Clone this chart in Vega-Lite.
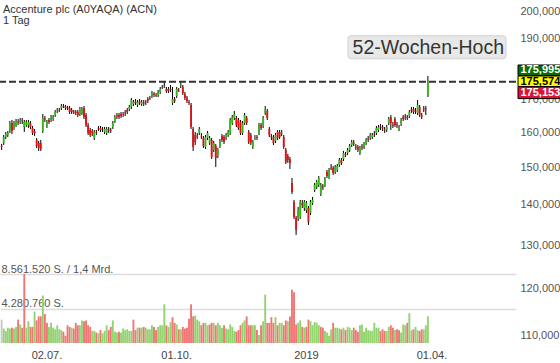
{
  "$schema": "https://vega.github.io/schema/vega-lite/v6.json",
  "width": 516,
  "height": 343,
  "autosize": {"type": "none"},
  "padding": {"left": 0, "top": 0, "right": 44, "bottom": 20},
  "background": "white",
  "config": {"view": {"stroke": null}, "font": "Liberation Sans"},
  "title": {"text": "Accenture plc (A0YAQA) (ACN)", "subtitle": "1 Tag", "anchor": "start", "frame": "group", "offset": -26, "dx": 3, "fontSize": 11, "fontWeight": "normal", "font": "Liberation Sans", "color": "#333333", "subtitleFontSize": 11, "subtitleFont": "Liberation Sans", "subtitleColor": "#333333", "subtitlePadding": 0},
  "datasets": {
    "kurse": [
      {"d":"2018-05-31","o":156.01,"h":156.59,"l":154.87,"c":155.73,"v":2900000},
      {"d":"2018-06-01","o":156.88,"h":159.20,"l":156.30,"c":158.62,"v":1800000},
      {"d":"2018-06-04","o":158.62,"h":160.08,"l":158.03,"c":159.49,"v":1500000},
      {"d":"2018-06-05","o":159.20,"h":160.38,"l":158.62,"c":159.79,"v":1900000},
      {"d":"2018-06-06","o":160.38,"h":163.36,"l":159.79,"c":162.76,"v":1800000},
      {"d":"2018-06-07","o":162.76,"h":163.66,"l":159.49,"c":160.38,"v":1900000},
      {"d":"2018-06-08","o":161.27,"h":163.36,"l":160.67,"c":162.76,"v":1800000},
      {"d":"2018-06-11","o":162.16,"h":163.96,"l":161.56,"c":163.06,"v":2000000},
      {"d":"2018-06-12","o":163.21,"h":163.96,"l":162.16,"c":162.91,"v":2900000},
      {"d":"2018-06-13","o":163.06,"h":164.26,"l":162.46,"c":163.51,"v":2300000},
      {"d":"2018-06-14","o":163.51,"h":164.26,"l":162.46,"c":163.21,"v":1900000},
      {"d":"2018-06-15","o":161.56,"h":163.66,"l":160.08,"c":163.06,"v":8561520},
      {"d":"2018-06-18","o":162.16,"h":163.66,"l":161.56,"c":163.06,"v":1900000},
      {"d":"2018-06-19","o":162.16,"h":163.66,"l":161.27,"c":163.06,"v":2700000},
      {"d":"2018-06-20","o":162.76,"h":163.36,"l":160.97,"c":161.56,"v":2000000},
      {"d":"2018-06-21","o":161.27,"h":161.86,"l":159.20,"c":159.79,"v":2000000},
      {"d":"2018-06-22","o":160.38,"h":160.97,"l":158.91,"c":159.79,"v":3900000},
      {"d":"2018-06-25","o":157.74,"h":158.32,"l":155.44,"c":156.01,"v":2800000},
      {"d":"2018-06-26","o":156.88,"h":157.45,"l":154.59,"c":155.44,"v":3300000},
      {"d":"2018-06-27","o":156.88,"h":157.74,"l":154.59,"c":155.16,"v":3300000},
      {"d":"2018-06-28","o":160.38,"h":165.47,"l":159.79,"c":164.26,"v":5900000},
      {"d":"2018-06-29","o":164.11,"h":164.87,"l":163.06,"c":163.81,"v":3600000},
      {"d":"2018-07-02","o":162.16,"h":163.66,"l":161.27,"c":163.06,"v":2500000},
      {"d":"2018-07-03","o":163.66,"h":164.26,"l":162.46,"c":163.06,"v":2000000},
      {"d":"2018-07-05","o":163.66,"h":165.17,"l":163.06,"c":164.57,"v":2500000},
      {"d":"2018-07-06","o":163.96,"h":165.17,"l":163.36,"c":164.57,"v":1900000},
      {"d":"2018-07-09","o":165.17,"h":166.69,"l":164.57,"c":166.08,"v":1700000},
      {"d":"2018-07-10","o":166.39,"h":167.31,"l":165.78,"c":166.54,"v":2200000},
      {"d":"2018-07-11","o":166.69,"h":167.31,"l":166.08,"c":166.54,"v":1700000},
      {"d":"2018-07-12","o":167.31,"h":168.55,"l":166.69,"c":167.93,"v":1600000},
      {"d":"2018-07-13","o":167.93,"h":168.55,"l":167.31,"c":167.78,"v":1400000},
      {"d":"2018-07-16","o":167.78,"h":168.24,"l":166.69,"c":167.31,"v":900000},
      {"d":"2018-07-17","o":167.47,"h":167.93,"l":166.69,"c":167.16,"v":2200000},
      {"d":"2018-07-18","o":167.31,"h":167.93,"l":165.47,"c":166.08,"v":2000000},
      {"d":"2018-07-19","o":166.69,"h":167.31,"l":165.47,"c":166.08,"v":1900000},
      {"d":"2018-07-20","o":166.24,"h":166.69,"l":165.47,"c":165.93,"v":1800000},
      {"d":"2018-07-23","o":166.08,"h":166.69,"l":165.17,"c":165.78,"v":2500000},
      {"d":"2018-07-24","o":166.08,"h":166.69,"l":164.57,"c":165.17,"v":2200000},
      {"d":"2018-07-25","o":165.47,"h":167.62,"l":164.87,"c":167.00,"v":2200000},
      {"d":"2018-07-26","o":165.78,"h":167.62,"l":165.17,"c":167.00,"v":2800000},
      {"d":"2018-07-27","o":167.31,"h":167.93,"l":163.96,"c":164.57,"v":2700000},
      {"d":"2018-07-30","o":165.17,"h":165.78,"l":161.56,"c":162.16,"v":2800000},
      {"d":"2018-07-31","o":162.16,"h":162.76,"l":159.20,"c":159.79,"v":2200000},
      {"d":"2018-08-01","o":160.67,"h":161.27,"l":158.62,"c":159.20,"v":2000000},
      {"d":"2018-08-02","o":160.38,"h":160.97,"l":158.91,"c":159.79,"v":1500000},
      {"d":"2018-08-03","o":158.32,"h":160.67,"l":157.74,"c":160.08,"v":1500000},
      {"d":"2018-08-06","o":160.08,"h":160.67,"l":159.20,"c":159.94,"v":1300000},
      {"d":"2018-08-07","o":161.27,"h":161.86,"l":160.38,"c":161.12,"v":1200000},
      {"d":"2018-08-08","o":161.27,"h":161.86,"l":160.08,"c":160.67,"v":1600000},
      {"d":"2018-08-09","o":160.97,"h":161.56,"l":160.08,"c":160.82,"v":1200000},
      {"d":"2018-08-10","o":160.08,"h":161.56,"l":159.49,"c":160.97,"v":1500000},
      {"d":"2018-08-13","o":159.79,"h":161.56,"l":159.20,"c":160.97,"v":2200000},
      {"d":"2018-08-14","o":160.82,"h":161.56,"l":159.79,"c":160.53,"v":1600000},
      {"d":"2018-08-15","o":160.53,"h":161.27,"l":159.79,"c":160.38,"v":2000000},
      {"d":"2018-08-16","o":161.56,"h":163.36,"l":160.97,"c":162.76,"v":2800000},
      {"d":"2018-08-17","o":163.36,"h":165.17,"l":162.76,"c":164.57,"v":1400000},
      {"d":"2018-08-20","o":165.02,"h":165.78,"l":163.96,"c":164.72,"v":1300000},
      {"d":"2018-08-21","o":165.17,"h":165.78,"l":163.96,"c":164.57,"v":1400000},
      {"d":"2018-08-22","o":165.47,"h":166.08,"l":164.26,"c":164.87,"v":1300000},
      {"d":"2018-08-23","o":165.47,"h":166.08,"l":164.57,"c":165.32,"v":1800000},
      {"d":"2018-08-24","o":165.93,"h":166.69,"l":164.87,"c":165.63,"v":1600000},
      {"d":"2018-08-27","o":166.69,"h":167.31,"l":165.47,"c":166.08,"v":1700000},
      {"d":"2018-08-28","o":167.00,"h":168.24,"l":166.39,"c":167.62,"v":1500000},
      {"d":"2018-08-29","o":167.62,"h":170.42,"l":167.00,"c":169.79,"v":1500000},
      {"d":"2018-08-30","o":168.55,"h":169.79,"l":167.93,"c":169.17,"v":2900000},
      {"d":"2018-08-31","o":169.33,"h":170.10,"l":168.24,"c":168.86,"v":1600000},
      {"d":"2018-09-04","o":168.24,"h":169.79,"l":167.62,"c":169.17,"v":1900000},
      {"d":"2018-09-05","o":169.33,"h":170.10,"l":168.24,"c":168.86,"v":1900000},
      {"d":"2018-09-06","o":168.55,"h":169.79,"l":167.93,"c":169.17,"v":1900000},
      {"d":"2018-09-07","o":169.02,"h":169.79,"l":167.93,"c":168.71,"v":2000000},
      {"d":"2018-09-10","o":169.02,"h":169.79,"l":168.24,"c":168.86,"v":1900000},
      {"d":"2018-09-11","o":170.10,"h":170.73,"l":168.86,"c":169.48,"v":1700000},
      {"d":"2018-09-12","o":170.42,"h":171.05,"l":169.79,"c":170.26,"v":1700000},
      {"d":"2018-09-13","o":171.05,"h":172.62,"l":170.42,"c":171.99,"v":2200000},
      {"d":"2018-09-14","o":171.68,"h":172.31,"l":170.73,"c":171.36,"v":2000000},
      {"d":"2018-09-17","o":171.36,"h":171.99,"l":170.73,"c":171.21,"v":1600000},
      {"d":"2018-09-18","o":171.36,"h":172.94,"l":170.73,"c":172.31,"v":2000000},
      {"d":"2018-09-19","o":172.31,"h":173.90,"l":171.68,"c":173.26,"v":2200000},
      {"d":"2018-09-20","o":173.90,"h":174.54,"l":173.26,"c":173.74,"v":2200000},
      {"d":"2018-09-21","o":174.54,"h":175.51,"l":173.58,"c":174.38,"v":4800000},
      {"d":"2018-09-24","o":173.26,"h":173.90,"l":171.99,"c":172.62,"v":2200000},
      {"d":"2018-09-25","o":173.26,"h":173.90,"l":171.99,"c":172.62,"v":2000000},
      {"d":"2018-09-26","o":173.26,"h":174.54,"l":172.31,"c":172.94,"v":2600000},
      {"d":"2018-09-27","o":168.86,"h":173.90,"l":168.24,"c":170.10,"v":3200000},
      {"d":"2018-09-28","o":170.10,"h":170.73,"l":168.86,"c":169.48,"v":2500000},
      {"d":"2018-10-01","o":171.05,"h":173.90,"l":170.42,"c":173.26,"v":2300000},
      {"d":"2018-10-02","o":172.94,"h":173.58,"l":172.31,"c":172.78,"v":1700000},
      {"d":"2018-10-03","o":174.38,"h":175.51,"l":173.58,"c":174.70,"v":1700000},
      {"d":"2018-10-04","o":173.90,"h":174.54,"l":171.36,"c":171.99,"v":2000000},
      {"d":"2018-10-05","o":171.68,"h":172.31,"l":169.79,"c":170.42,"v":1800000},
      {"d":"2018-10-08","o":170.42,"h":171.05,"l":168.86,"c":169.48,"v":1900000},
      {"d":"2018-10-09","o":169.17,"h":169.79,"l":168.24,"c":168.86,"v":3000000},
      {"d":"2018-10-10","o":168.24,"h":168.86,"l":160.97,"c":161.56,"v":4800000},
      {"d":"2018-10-11","o":160.97,"h":161.56,"l":154.59,"c":155.73,"v":3300000},
      {"d":"2018-10-12","o":159.20,"h":160.08,"l":156.30,"c":157.16,"v":3400000},
      {"d":"2018-10-15","o":158.91,"h":159.79,"l":158.03,"c":158.77,"v":2900000},
      {"d":"2018-10-16","o":159.79,"h":161.56,"l":159.20,"c":160.97,"v":2700000},
      {"d":"2018-10-17","o":158.91,"h":159.79,"l":158.03,"c":158.77,"v":2200000},
      {"d":"2018-10-18","o":158.32,"h":158.91,"l":155.44,"c":156.01,"v":2500000},
      {"d":"2018-10-19","o":155.73,"h":159.20,"l":155.16,"c":158.62,"v":2500000},
      {"d":"2018-10-22","o":158.32,"h":160.38,"l":157.74,"c":159.79,"v":2200000},
      {"d":"2018-10-23","o":156.88,"h":158.91,"l":156.30,"c":158.32,"v":2300000},
      {"d":"2018-10-24","o":157.74,"h":158.32,"l":152.32,"c":152.89,"v":2500000},
      {"d":"2018-10-25","o":154.87,"h":157.45,"l":154.30,"c":156.88,"v":2500000},
      {"d":"2018-10-26","o":156.01,"h":156.59,"l":150.10,"c":152.60,"v":2200000},
      {"d":"2018-10-29","o":153.17,"h":155.44,"l":152.60,"c":154.87,"v":2500000},
      {"d":"2018-10-30","o":156.01,"h":158.03,"l":155.44,"c":157.45,"v":2200000},
      {"d":"2018-10-31","o":158.91,"h":159.49,"l":157.16,"c":157.74,"v":1900000},
      {"d":"2018-11-01","o":158.62,"h":159.20,"l":156.59,"c":157.16,"v":2200000},
      {"d":"2018-11-02","o":158.32,"h":159.79,"l":157.74,"c":159.20,"v":1800000},
      {"d":"2018-11-05","o":159.20,"h":160.67,"l":158.62,"c":160.08,"v":1700000},
      {"d":"2018-11-06","o":159.79,"h":164.26,"l":159.20,"c":163.66,"v":2300000},
      {"d":"2018-11-07","o":162.76,"h":165.17,"l":162.16,"c":164.57,"v":2000000},
      {"d":"2018-11-08","o":164.26,"h":166.39,"l":163.66,"c":165.47,"v":1500000},
      {"d":"2018-11-09","o":164.26,"h":164.87,"l":161.56,"c":162.16,"v":1400000},
      {"d":"2018-11-12","o":163.66,"h":164.26,"l":160.67,"c":161.27,"v":1600000},
      {"d":"2018-11-13","o":163.06,"h":163.66,"l":159.20,"c":159.79,"v":2200000},
      {"d":"2018-11-14","o":159.79,"h":163.36,"l":159.20,"c":162.76,"v":2500000},
      {"d":"2018-11-15","o":162.76,"h":165.78,"l":162.16,"c":165.17,"v":2800000},
      {"d":"2018-11-16","o":164.26,"h":164.87,"l":162.16,"c":162.76,"v":3300000},
      {"d":"2018-11-19","o":160.08,"h":160.67,"l":156.59,"c":157.16,"v":2200000},
      {"d":"2018-11-20","o":159.20,"h":159.79,"l":156.30,"c":156.88,"v":2200000},
      {"d":"2018-11-21","o":155.73,"h":157.74,"l":155.16,"c":157.16,"v":2200000},
      {"d":"2018-11-23","o":158.18,"h":159.20,"l":157.74,"c":158.47,"v":2200000},
      {"d":"2018-11-26","o":158.62,"h":159.20,"l":157.74,"c":158.32,"v":1600000},
      {"d":"2018-11-27","o":159.79,"h":162.76,"l":159.20,"c":162.16,"v":1000000},
      {"d":"2018-11-28","o":162.16,"h":162.76,"l":160.67,"c":161.27,"v":2200000},
      {"d":"2018-11-29","o":161.86,"h":164.87,"l":161.27,"c":164.26,"v":2700000},
      {"d":"2018-11-30","o":165.78,"h":167.93,"l":165.17,"c":166.69,"v":6000000},
      {"d":"2018-12-03","o":166.39,"h":167.00,"l":163.66,"c":164.26,"v":2500000},
      {"d":"2018-12-04","o":160.97,"h":161.56,"l":158.62,"c":159.20,"v":2500000},
      {"d":"2018-12-06","o":158.77,"h":159.49,"l":157.74,"c":158.47,"v":3200000},
      {"d":"2018-12-07","o":158.62,"h":159.20,"l":156.30,"c":156.88,"v":2500000},
      {"d":"2018-12-10","o":157.45,"h":159.79,"l":156.88,"c":159.20,"v":3200000},
      {"d":"2018-12-11","o":160.08,"h":160.67,"l":157.74,"c":158.32,"v":2200000},
      {"d":"2018-12-12","o":160.08,"h":160.67,"l":158.03,"c":158.62,"v":2500000},
      {"d":"2018-12-13","o":159.64,"h":160.67,"l":158.91,"c":159.94,"v":2500000},
      {"d":"2018-12-14","o":158.62,"h":159.20,"l":155.16,"c":155.73,"v":2200000},
      {"d":"2018-12-17","o":154.87,"h":155.44,"l":150.93,"c":151.48,"v":2800000},
      {"d":"2018-12-18","o":153.17,"h":153.73,"l":151.21,"c":152.04,"v":2700000},
      {"d":"2018-12-19","o":152.32,"h":152.89,"l":149.55,"c":151.21,"v":3300000},
      {"d":"2018-12-20","o":145.75,"h":147.09,"l":142.82,"c":143.35,"v":6600000},
      {"d":"2018-12-21","o":140.74,"h":141.26,"l":136.40,"c":136.91,"v":6300000},
      {"d":"2018-12-24","o":136.65,"h":137.16,"l":132.45,"c":133.67,"v":2300000},
      {"d":"2018-12-26","o":136.65,"h":139.45,"l":135.90,"c":138.68,"v":2500000},
      {"d":"2018-12-27","o":136.91,"h":141.26,"l":136.40,"c":140.74,"v":2800000},
      {"d":"2018-12-28","o":140.48,"h":141.26,"l":139.19,"c":139.96,"v":2000000},
      {"d":"2018-12-31","o":139.19,"h":141.26,"l":138.43,"c":140.74,"v":1900000},
      {"d":"2019-01-02","o":138.68,"h":141.00,"l":137.92,"c":140.48,"v":2000000},
      {"d":"2019-01-03","o":139.19,"h":139.70,"l":134.91,"c":135.65,"v":2900000},
      {"d":"2019-01-04","o":137.92,"h":141.26,"l":137.41,"c":140.74,"v":2700000},
      {"d":"2019-01-07","o":140.48,"h":142.04,"l":139.96,"c":141.26,"v":2200000},
      {"d":"2019-01-08","o":143.88,"h":145.75,"l":143.35,"c":145.21,"v":2600000},
      {"d":"2019-01-09","o":144.68,"h":146.55,"l":144.15,"c":146.02,"v":2500000},
      {"d":"2019-01-10","o":145.21,"h":147.64,"l":144.68,"c":147.09,"v":2200000},
      {"d":"2019-01-11","o":142.82,"h":145.75,"l":142.30,"c":145.21,"v":2000000},
      {"d":"2019-01-14","o":144.81,"h":145.48,"l":143.88,"c":144.55,"v":1900000},
      {"d":"2019-01-15","o":145.21,"h":147.36,"l":144.68,"c":146.82,"v":1500000},
      {"d":"2019-01-16","o":148.72,"h":149.27,"l":147.09,"c":147.64,"v":1300000},
      {"d":"2019-01-17","o":147.36,"h":149.82,"l":146.82,"c":149.27,"v":900000},
      {"d":"2019-01-18","o":149.96,"h":150.93,"l":149.27,"c":149.69,"v":1700000},
      {"d":"2019-01-22","o":149.82,"h":150.37,"l":147.91,"c":148.45,"v":2500000},
      {"d":"2019-01-23","o":148.72,"h":150.65,"l":148.18,"c":150.10,"v":1900000},
      {"d":"2019-01-24","o":149.27,"h":150.93,"l":148.72,"c":150.37,"v":1900000},
      {"d":"2019-01-25","o":150.65,"h":152.60,"l":150.10,"c":152.04,"v":1800000},
      {"d":"2019-01-28","o":152.04,"h":152.60,"l":150.65,"c":151.21,"v":1700000},
      {"d":"2019-01-29","o":152.32,"h":154.59,"l":151.76,"c":154.02,"v":1900000},
      {"d":"2019-01-30","o":153.73,"h":154.30,"l":152.89,"c":153.45,"v":1600000},
      {"d":"2019-01-31","o":154.02,"h":155.44,"l":153.45,"c":154.87,"v":2000000},
      {"d":"2019-02-01","o":154.87,"h":156.59,"l":154.30,"c":156.01,"v":1900000},
      {"d":"2019-02-04","o":156.30,"h":157.74,"l":155.73,"c":157.16,"v":1600000},
      {"d":"2019-02-05","o":157.02,"h":157.74,"l":156.01,"c":156.73,"v":1900000},
      {"d":"2019-02-06","o":155.87,"h":156.59,"l":154.87,"c":155.58,"v":1600000},
      {"d":"2019-02-07","o":155.73,"h":156.30,"l":154.30,"c":154.87,"v":1400000},
      {"d":"2019-02-08","o":154.02,"h":156.01,"l":153.45,"c":155.44,"v":2200000},
      {"d":"2019-02-11","o":155.87,"h":156.59,"l":154.87,"c":155.58,"v":2300000},
      {"d":"2019-02-12","o":155.73,"h":157.16,"l":155.16,"c":156.59,"v":1400000},
      {"d":"2019-02-13","o":156.88,"h":158.32,"l":156.30,"c":157.74,"v":1900000},
      {"d":"2019-02-14","o":158.18,"h":158.91,"l":157.16,"c":157.89,"v":1600000},
      {"d":"2019-02-15","o":158.32,"h":159.79,"l":157.74,"c":159.20,"v":1500000},
      {"d":"2019-02-19","o":158.62,"h":159.79,"l":158.03,"c":159.20,"v":1500000},
      {"d":"2019-02-20","o":159.64,"h":160.38,"l":158.62,"c":159.35,"v":2500000},
      {"d":"2019-02-21","o":159.79,"h":161.86,"l":159.20,"c":161.27,"v":1900000},
      {"d":"2019-02-22","o":160.67,"h":162.16,"l":160.08,"c":161.56,"v":1900000},
      {"d":"2019-02-25","o":161.71,"h":162.46,"l":160.67,"c":161.42,"v":1500000},
      {"d":"2019-02-26","o":161.56,"h":162.16,"l":160.38,"c":161.12,"v":1700000},
      {"d":"2019-02-27","o":160.82,"h":161.56,"l":159.79,"c":160.53,"v":1500000},
      {"d":"2019-02-28","o":160.67,"h":162.16,"l":160.08,"c":161.56,"v":1500000},
      {"d":"2019-03-01","o":162.76,"h":164.57,"l":162.16,"c":163.96,"v":2000000},
      {"d":"2019-03-04","o":164.57,"h":165.17,"l":160.67,"c":162.76,"v":2200000},
      {"d":"2019-03-05","o":162.31,"h":163.06,"l":161.27,"c":162.01,"v":1900000},
      {"d":"2019-03-06","o":163.96,"h":164.57,"l":161.56,"c":162.16,"v":1600000},
      {"d":"2019-03-07","o":162.31,"h":163.06,"l":161.27,"c":162.01,"v":1700000},
      {"d":"2019-03-08","o":160.97,"h":162.16,"l":160.38,"c":161.56,"v":1600000},
      {"d":"2019-03-11","o":162.46,"h":164.26,"l":161.86,"c":163.66,"v":1300000},
      {"d":"2019-03-12","o":164.57,"h":165.17,"l":163.36,"c":163.96,"v":2300000},
      {"d":"2019-03-13","o":164.72,"h":165.47,"l":163.66,"c":164.42,"v":2200000},
      {"d":"2019-03-14","o":164.57,"h":165.17,"l":163.66,"c":164.26,"v":2500000},
      {"d":"2019-03-15","o":164.87,"h":166.69,"l":164.26,"c":166.08,"v":3700000},
      {"d":"2019-03-18","o":166.85,"h":167.62,"l":165.78,"c":166.54,"v":1600000},
      {"d":"2019-03-19","o":167.00,"h":167.62,"l":165.47,"c":166.08,"v":1700000},
      {"d":"2019-03-20","o":166.54,"h":167.31,"l":165.47,"c":166.24,"v":2000000},
      {"d":"2019-03-21","o":165.78,"h":169.79,"l":165.17,"c":168.24,"v":1600000},
      {"d":"2019-03-22","o":167.62,"h":168.24,"l":164.57,"c":165.17,"v":1500000},
      {"d":"2019-03-25","o":165.17,"h":165.78,"l":163.96,"c":164.57,"v":1700000},
      {"d":"2019-03-26","o":167.16,"h":167.93,"l":166.08,"c":166.85,"v":1700000},
      {"d":"2019-03-27","o":167.16,"h":167.93,"l":165.17,"c":166.85,"v":2200000},
      {"d":"2019-03-28","o":171.05,"h":177.45,"l":170.73,"c":175.57,"v":3300000}
    ]
  },
  "layer": [
    {
      "data": {"name": "kurse"},
      "mark": {"type": "rule", "color": "#000000", "strokeWidth": 1},
      "encoding": {
        "x": {"field": "d", "type": "ordinal", "title": null,
          "scale": {"type": "band", "paddingInner": 0.08, "paddingOuter": 0.33, "domain": ["2018-05-31","2018-06-01","2018-06-04","2018-06-05","2018-06-06","2018-06-07","2018-06-08","2018-06-11","2018-06-12","2018-06-13","2018-06-14","2018-06-15","2018-06-18","2018-06-19","2018-06-20","2018-06-21","2018-06-22","2018-06-25","2018-06-26","2018-06-27","2018-06-28","2018-06-29","2018-07-02","2018-07-03","2018-07-05","2018-07-06","2018-07-09","2018-07-10","2018-07-11","2018-07-12","2018-07-13","2018-07-16","2018-07-17","2018-07-18","2018-07-19","2018-07-20","2018-07-23","2018-07-24","2018-07-25","2018-07-26","2018-07-27","2018-07-30","2018-07-31","2018-08-01","2018-08-02","2018-08-03","2018-08-06","2018-08-07","2018-08-08","2018-08-09","2018-08-10","2018-08-13","2018-08-14","2018-08-15","2018-08-16","2018-08-17","2018-08-20","2018-08-21","2018-08-22","2018-08-23","2018-08-24","2018-08-27","2018-08-28","2018-08-29","2018-08-30","2018-08-31","2018-09-04","2018-09-05","2018-09-06","2018-09-07","2018-09-10","2018-09-11","2018-09-12","2018-09-13","2018-09-14","2018-09-17","2018-09-18","2018-09-19","2018-09-20","2018-09-21","2018-09-24","2018-09-25","2018-09-26","2018-09-27","2018-09-28","2018-10-01","2018-10-02","2018-10-03","2018-10-04","2018-10-05","2018-10-08","2018-10-09","2018-10-10","2018-10-11","2018-10-12","2018-10-15","2018-10-16","2018-10-17","2018-10-18","2018-10-19","2018-10-22","2018-10-23","2018-10-24","2018-10-25","2018-10-26","2018-10-29","2018-10-30","2018-10-31","2018-11-01","2018-11-02","2018-11-05","2018-11-06","2018-11-07","2018-11-08","2018-11-09","2018-11-12","2018-11-13","2018-11-14","2018-11-15","2018-11-16","2018-11-19","2018-11-20","2018-11-21","2018-11-23","2018-11-26","2018-11-27","2018-11-28","2018-11-29","2018-11-30","2018-12-03","2018-12-04","2018-12-06","2018-12-07","2018-12-10","2018-12-11","2018-12-12","2018-12-13","2018-12-14","2018-12-17","2018-12-18","2018-12-19","2018-12-20","2018-12-21","2018-12-24","2018-12-26","2018-12-27","2018-12-28","2018-12-31","2019-01-02","2019-01-03","2019-01-04","2019-01-07","2019-01-08","2019-01-09","2019-01-10","2019-01-11","2019-01-14","2019-01-15","2019-01-16","2019-01-17","2019-01-18","2019-01-22","2019-01-23","2019-01-24","2019-01-25","2019-01-28","2019-01-29","2019-01-30","2019-01-31","2019-02-01","2019-02-04","2019-02-05","2019-02-06","2019-02-07","2019-02-08","2019-02-11","2019-02-12","2019-02-13","2019-02-14","2019-02-15","2019-02-19","2019-02-20","2019-02-21","2019-02-22","2019-02-25","2019-02-26","2019-02-27","2019-02-28","2019-03-01","2019-03-04","2019-03-05","2019-03-06","2019-03-07","2019-03-08","2019-03-11","2019-03-12","2019-03-13","2019-03-14","2019-03-15","2019-03-18","2019-03-19","2019-03-20","2019-03-21","2019-03-22","2019-03-25","2019-03-26","2019-03-27","2019-03-28","2019-03-29","2019-04-01","2019-04-02","2019-04-03","2019-04-04","2019-04-05","2019-04-08","2019-04-09","2019-04-10","2019-04-11","2019-04-12","2019-04-15","2019-04-16","2019-04-17","2019-04-18","2019-04-22","2019-04-23","2019-04-24","2019-04-25","2019-04-26","2019-04-29","2019-04-30","2019-05-01","2019-05-02","2019-05-03","2019-05-06","2019-05-07","2019-05-08","2019-05-09","2019-05-10","2019-05-13","2019-05-14","2019-05-15","2019-05-16","2019-05-17","2019-05-20","2019-05-21","2019-05-22","2019-05-23","2019-05-24","2019-05-28","2019-05-29"]},
          "axis": {"values": ["2018-07-02","2018-10-01","2019-01-02","2019-04-01"], "labelExpr": "datum.value == '2018-07-02' ? '02.07.' : datum.value == '2018-10-01' ? '01.10.' : datum.value == '2019-01-02' ? '2019' : '01.04.'", "title": null, "domain": false, "ticks": false, "grid": false, "labelAngle": 0, "labelAlign": "center", "labelBaseline": "top", "labelPadding": 6, "labelFontSize": 11, "labelFont": "Liberation Sans", "labelColor": "#444444", "labelOverlap": false, "labelFlush": false}},
        "y": {"field": "l", "type": "quantitative", "title": null,
          "scale": {"type": "log", "domain": [108.57, 204.09], "nice": false},
          "axis": {"orient": "right", "values": [110,120,130,140,150,160,170,190,200], "labelExpr": "replace(format(datum.value, '.3f'), '.', ',')", "title": null, "domain": false, "ticks": false, "grid": false, "labelPadding": 4, "labelFontSize": 11, "labelFont": "Liberation Sans", "labelColor": "#555555", "labelOverlap": false, "labelFlush": false, "labelBaseline": "middle"}},
        "y2": {"field": "h"}
      }
    },
    {
      "data": {"name": "kurse"},
      "mark": {"type": "bar"},
      "encoding": {
        "x": {"field": "d", "type": "ordinal", "title": null},
        "y": {"field": "o", "type": "quantitative", "title": null, "axis": null, "scale": {"type": "log", "domain": [108.57, 204.09], "nice": false}},
        "y2": {"field": "c"},
        "color": {"condition": {"test": "datum.c >= datum.o", "value": "#3cb41e"}, "value": "#dc1414"}
      }
    },
    {
      "data": {"name": "kurse"},
      "transform": [{"window": [{"op": "lag", "field": "c", "as": "pc"}]}],
      "mark": {"type": "bar"},
      "encoding": {
        "x": {"field": "d", "type": "ordinal", "title": null},
        "y": {"field": "v", "type": "quantitative", "title": null,
          "scale": {"domain": [0, 42560000], "nice": false, "zero": true},
          "axis": {"orient": "left", "values": [4280760, 8561520], "labelExpr": "datum.value > 6000000 ? '8.561.520 S. / 1,4 Mrd.' : '4.280.760 S.'", "title": null, "domain": false, "ticks": false, "grid": true, "gridColor": "#dddddd", "gridWidth": 1.5, "labelAlign": "left", "labelPadding": -1, "labelBaseline": "alphabetic", "labelOffset": -2, "labelFontSize": 11, "labelFont": "Liberation Sans", "labelColor": "#555555", "labelOverlap": false, "labelFlush": false}},
        "color": {"condition": [{"test": "datum.pc == null", "value": "#c8c8c8"}, {"test": "datum.c >= datum.pc", "value": "#92d36f"}], "value": "#f07575"}
      }
    },
    {
      "data": {"values": [{"name": "52-Wochen-Hoch", "value": 175.574}]},
      "mark": {"type": "rule", "strokeDash": [7, 3], "strokeWidth": 2, "color": "#333333"},
      "encoding": {"y": {"field": "value", "type": "quantitative", "title": null, "axis": null, "scale": {"type": "log", "domain": [108.57, 204.09], "nice": false}}}
    },
    {
      "data": {"values": [{"name": "52-Wochen-Hoch", "value": 175.574}]},
      "mark": {"type": "point", "shape": "M-1.65,-0.46H-0.13Q-0.10,-0.46 -0.10,-0.43V-0.26Q-0.10,-0.23 -0.13,-0.23H-1.65Q-1.68,-0.23 -1.68,-0.26V-0.43Q-1.68,-0.46 -1.65,-0.46Z", "size": 40000, "filled": true, "fill": "#e8e8e8", "stroke": "#d0d0d0", "strokeWidth": 1, "opacity": 1},
      "encoding": {"x": {"value": "width"}, "y": {"field": "value", "type": "quantitative", "title": null, "axis": null, "scale": {"type": "log", "domain": [108.57, 204.09], "nice": false}}}
    },
    {
      "data": {"values": [{"name": "52-Wochen-Hoch", "value": 175.574}]},
      "mark": {"type": "text", "align": "right", "baseline": "alphabetic", "dx": -12, "dy": -27.8, "fontSize": 19.5, "font": "Liberation Sans", "color": "#333333"},
      "encoding": {"x": {"value": "width"}, "y": {"field": "value", "type": "quantitative", "title": null, "axis": null, "scale": {"type": "log", "domain": [108.57, 204.09], "nice": false}}, "text": {"field": "name"}}
    },
    {
      "data": {"values": [{"kind": "oben", "value": 175.995, "label": "175,995"}]},
      "mark": {"type": "point", "shape": "M0.02,-0.155H0.48V-0.05H0.02Z", "size": 40000, "filled": true, "fill": "#0b6b0b", "stroke": "#000000", "strokeWidth": 1, "opacity": 1},
      "encoding": {"x": {"value": "width"}, "y": {"field": "value", "type": "quantitative", "title": null, "axis": null, "scale": {"type": "log", "domain": [108.57, 204.09], "nice": false}}}
    },
    {
      "data": {"values": [{"kind": "letzter", "value": 175.574, "label": "175,574"}]},
      "mark": {"type": "point", "shape": "M0.02,-0.058H0.48V0.047H0.02Z", "size": 40000, "filled": true, "fill": "#ffff00", "stroke": "#000000", "strokeWidth": 1, "opacity": 1},
      "encoding": {"x": {"value": "width"}, "y": {"field": "value", "type": "quantitative", "title": null, "axis": null, "scale": {"type": "log", "domain": [108.57, 204.09], "nice": false}}}
    },
    {
      "data": {"values": [{"kind": "unten", "value": 175.153, "label": "175,153"}]},
      "mark": {"type": "point", "shape": "M0.02,0.036H0.48V0.155H0.02Z", "size": 40000, "filled": true, "fill": "#dd1133", "stroke": "#000000", "strokeWidth": 1, "opacity": 1},
      "encoding": {"x": {"value": "width"}, "y": {"field": "value", "type": "quantitative", "title": null, "axis": null, "scale": {"type": "log", "domain": [108.57, 204.09], "nice": false}}}
    },
    {
      "data": {"values": [{"kind": "oben", "value": 175.995, "label": "175,995"}]},
      "mark": {"type": "text", "align": "left", "baseline": "alphabetic", "dx": 4.5, "dy": -7, "fontSize": 11, "fontWeight": "bold", "font": "Liberation Sans", "color": "#ffffff"},
      "encoding": {"x": {"value": "width"}, "y": {"field": "value", "type": "quantitative", "title": null, "axis": null, "scale": {"type": "log", "domain": [108.57, 204.09], "nice": false}}, "text": {"field": "label"}}
    },
    {
      "data": {"values": [{"kind": "letzter", "value": 175.574, "label": "175,574"}]},
      "mark": {"type": "text", "align": "left", "baseline": "alphabetic", "dx": 4.5, "dy": 3.2, "fontSize": 11, "fontWeight": "bold", "font": "Liberation Sans", "color": "#000000"},
      "encoding": {"x": {"value": "width"}, "y": {"field": "value", "type": "quantitative", "title": null, "axis": null, "scale": {"type": "log", "domain": [108.57, 204.09], "nice": false}}, "text": {"field": "label"}}
    },
    {
      "data": {"values": [{"kind": "unten", "value": 175.153, "label": "175,153"}]},
      "mark": {"type": "text", "align": "left", "baseline": "alphabetic", "dx": 4.5, "dy": 12.6, "fontSize": 11, "fontWeight": "bold", "font": "Liberation Sans", "color": "#ffffff"},
      "encoding": {"x": {"value": "width"}, "y": {"field": "value", "type": "quantitative", "title": null, "axis": null, "scale": {"type": "log", "domain": [108.57, 204.09], "nice": false}}, "text": {"field": "label"}}
    }
  ],
  "resolve": {"scale": {"y": "independent"}}
}
